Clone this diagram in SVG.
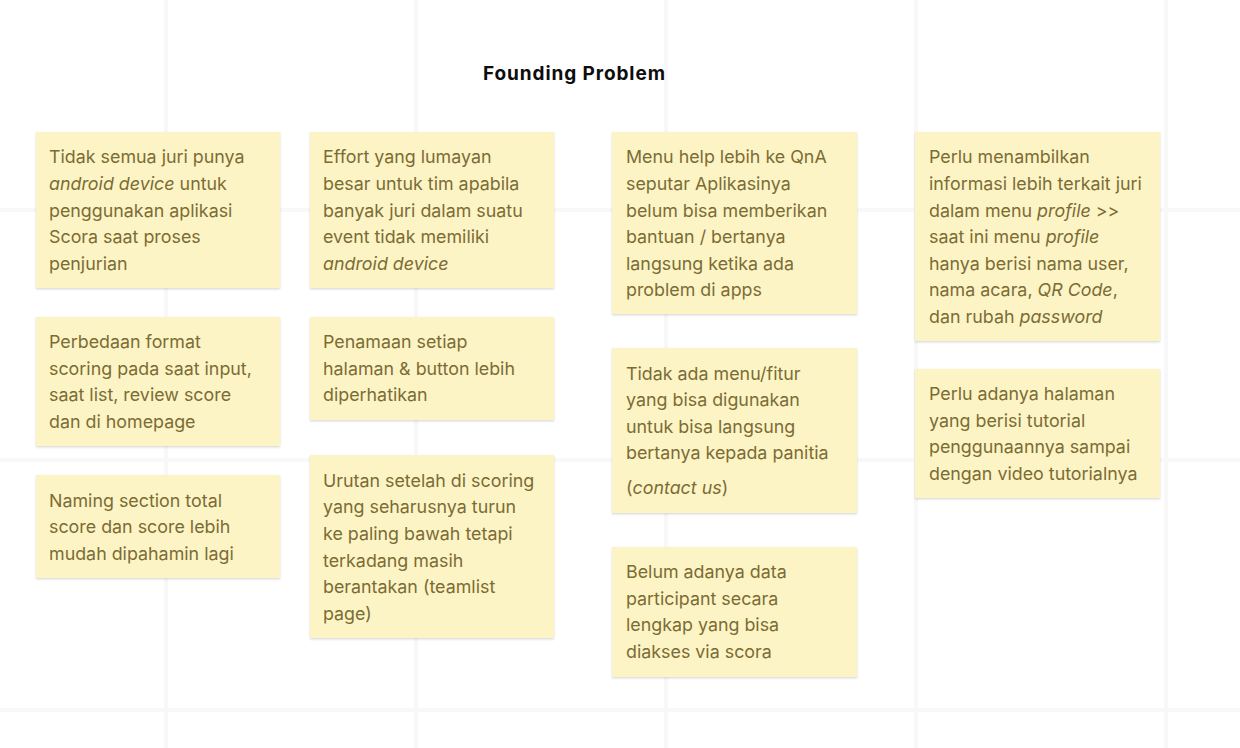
<svg xmlns="http://www.w3.org/2000/svg" width="1240" height="748" viewBox="0 0 1240 748">
<style>
.grid{stroke:#f8f8f8;stroke-width:4;fill:none}
.note{fill:#fdf4c6;filter:url(#sh)}
.t{font-family:Inter,"Liberation Sans",sans-serif;font-size:17.85px;fill:#7b6c34}
.i{font-style:italic}
.title{font-family:Inter,"Liberation Sans",sans-serif;font-size:19px;font-weight:700;fill:#0d0d0d}
</style>
<defs>
<filter id="sh" x="-5%" y="-5%" width="110%" height="115%">
<feDropShadow dx="0" dy="1.2" stdDeviation="1.3" flood-color="#000" flood-opacity="0.16"/>
</filter>
</defs>
<rect width="1240" height="748" fill="#ffffff"/>
<g id="grid">
<line class="grid" x1="166" y1="0" x2="166" y2="748"/>
<line class="grid" x1="416" y1="0" x2="416" y2="748"/>
<line class="grid" x1="666" y1="0" x2="666" y2="748"/>
<line class="grid" x1="916" y1="0" x2="916" y2="748"/>
<line class="grid" x1="1166" y1="0" x2="1166" y2="748"/>
<line class="grid" x1="0" y1="210" x2="1240" y2="210"/>
<line class="grid" x1="0" y1="460" x2="1240" y2="460"/>
<line class="grid" x1="0" y1="710" x2="1240" y2="710"/>
</g>
<g id="title"><text class="title" x="483" y="80" textLength="182">Founding Problem</text></g>

<g id="n1">
<rect class="note" x="36" y="132" width="244" height="156"/>
<text class="t" x="49" y="163.3">Tidak semua juri punya</text>
<text class="t" x="49" y="189.9"><tspan class="i">android device</tspan> untuk</text>
<text class="t" x="49" y="216.5">penggunakan aplikasi</text>
<text class="t" x="49" y="243.1">Scora saat proses</text>
<text class="t" x="49" y="269.7">penjurian</text>
</g>
<g id="n2">
<rect class="note" x="36" y="317" width="244" height="129"/>
<text class="t" x="49" y="348">Perbedaan format</text>
<text class="t" x="49" y="374.6">scoring pada saat input,</text>
<text class="t" x="49" y="401.2">saat list, review score</text>
<text class="t" x="49" y="427.8">dan di homepage</text>
</g>
<g id="n3">
<rect class="note" x="36" y="475" width="244" height="103"/>
<text class="t" x="49" y="506.5">Naming section total</text>
<text class="t" x="49" y="533.1">score dan score lebih</text>
<text class="t" x="49" y="559.7">mudah dipahamin lagi</text>
</g>

<g id="n4">
<rect class="note" x="310" y="132" width="244" height="156"/>
<text class="t" x="323" y="163.3">Effort yang lumayan</text>
<text class="t" x="323" y="189.9">besar untuk tim apabila</text>
<text class="t" x="323" y="216.5">banyak juri dalam suatu</text>
<text class="t" x="323" y="243.1">event tidak memiliki</text>
<text class="t i" x="323" y="269.7">android device</text>
</g>
<g id="n5">
<rect class="note" x="310" y="317" width="244" height="103"/>
<text class="t" x="323" y="348">Penamaan setiap</text>
<text class="t" x="323" y="374.6">halaman &amp; button lebih</text>
<text class="t" x="323" y="401.2">diperhatikan</text>
</g>
<g id="n6">
<rect class="note" x="310" y="455" width="244" height="183"/>
<text class="t" x="323" y="486.7">Urutan setelah di scoring</text>
<text class="t" x="323" y="513.3">yang seharusnya turun</text>
<text class="t" x="323" y="539.9">ke paling bawah tetapi</text>
<text class="t" x="323" y="566.5">terkadang masih</text>
<text class="t" x="323" y="593.1">berantakan (teamlist</text>
<text class="t" x="323" y="619.7">page)</text>
</g>

<g id="n7">
<rect class="note" x="612" y="132" width="245" height="182"/>
<text class="t" x="626" y="163.3">Menu help lebih ke QnA</text>
<text class="t" x="626" y="189.9">seputar Aplikasinya</text>
<text class="t" x="626" y="216.5">belum bisa memberikan</text>
<text class="t" x="626" y="243.1">bantuan / bertanya</text>
<text class="t" x="626" y="269.7">langsung ketika ada</text>
<text class="t" x="626" y="296.3">problem di apps</text>
</g>
<g id="n8">
<rect class="note" x="612" y="348" width="245" height="165"/>
<text class="t" x="626" y="379.5">Tidak ada menu/fitur</text>
<text class="t" x="626" y="406.1">yang bisa digunakan</text>
<text class="t" x="626" y="432.7">untuk bisa langsung</text>
<text class="t" x="626" y="459.3">bertanya kepada panitia</text>
<text class="t" x="626" y="494">(<tspan class="i">contact us</tspan>)</text>
</g>
<g id="n9">
<rect class="note" x="612" y="547" width="245" height="130"/>
<text class="t" x="626" y="578">Belum adanya data</text>
<text class="t" x="626" y="604.6">participant secara</text>
<text class="t" x="626" y="631.2">lengkap yang bisa</text>
<text class="t" x="626" y="657.8">diakses via scora</text>
</g>

<g id="n10">
<rect class="note" x="915" y="132" width="245" height="209"/>
<text class="t" x="929" y="163.3">Perlu menambilkan</text>
<text class="t" x="929" y="189.9">informasi lebih terkait juri</text>
<text class="t" x="929" y="216.5">dalam menu <tspan class="i">profile</tspan> &gt;&gt;</text>
<text class="t" x="929" y="243.1">saat ini menu <tspan class="i">profile</tspan></text>
<text class="t" x="929" y="269.7">hanya berisi nama user,</text>
<text class="t" x="929" y="296.3">nama acara, <tspan class="i">QR Code</tspan>,</text>
<text class="t" x="929" y="322.9">dan rubah <tspan class="i">password</tspan></text>
</g>
<g id="n11">
<rect class="note" x="915" y="369" width="245" height="129"/>
<text class="t" x="929" y="400">Perlu adanya halaman</text>
<text class="t" x="929" y="426.6">yang berisi tutorial</text>
<text class="t" x="929" y="453.2">penggunaannya sampai</text>
<text class="t" x="929" y="479.8">dengan video tutorialnya</text>
</g>
</svg>
